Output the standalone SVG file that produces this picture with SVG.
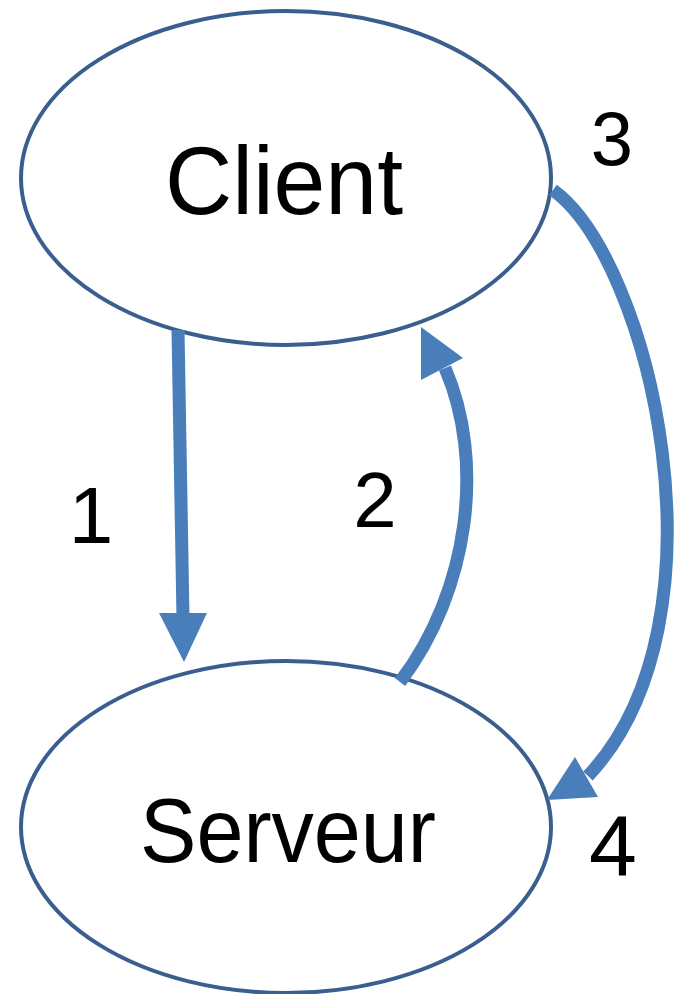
<svg xmlns="http://www.w3.org/2000/svg" width="677" height="994" viewBox="0 0 677 994">
<style>
.node{fill:#ffffff;stroke:#3A5F8F;stroke-width:4}
.lbl{font-family:"Liberation Sans",Arial,sans-serif;fill:#000000;text-anchor:middle}
.conn{fill:none;stroke:#4A7EBB;stroke-width:13}
.head{fill:#4A7EBB}
</style>
<rect width="677" height="994" fill="#ffffff"/>
<g id="client">
<ellipse class="node" cx="286" cy="178" rx="265" ry="167"/>
<text class="lbl" x="284" y="214" font-size="96" textLength="238" lengthAdjust="spacingAndGlyphs">Client</text>
</g>
<g id="serveur">
<ellipse class="node" cx="286" cy="827" rx="265" ry="166"/>
<text class="lbl" x="288" y="862" font-size="90" textLength="296" lengthAdjust="spacingAndGlyphs">Serveur</text>
</g>
<g id="connectors">
<path class="conn" d="M178,330 L183,618"/>
<polygon class="head" points="159,613 207,613 184,662"/>
<path class="conn" d="M400,682 C470,590 485,460 445,368"/>
<polygon class="head" points="421,327 421,380 463,358"/>
<path class="conn" d="M553,190 C650,260 735,620 588,776"/>
<polygon class="head" points="547,800 575,757 598,797"/>
</g>
<g id="labels">
<text class="lbl" x="91" y="543" font-size="80">1</text>
<text class="lbl" x="375" y="527" font-size="78">2</text>
<text class="lbl" x="612" y="165" font-size="76">3</text>
<text class="lbl" x="613" y="875" font-size="86">4</text>
</g>
</svg>
